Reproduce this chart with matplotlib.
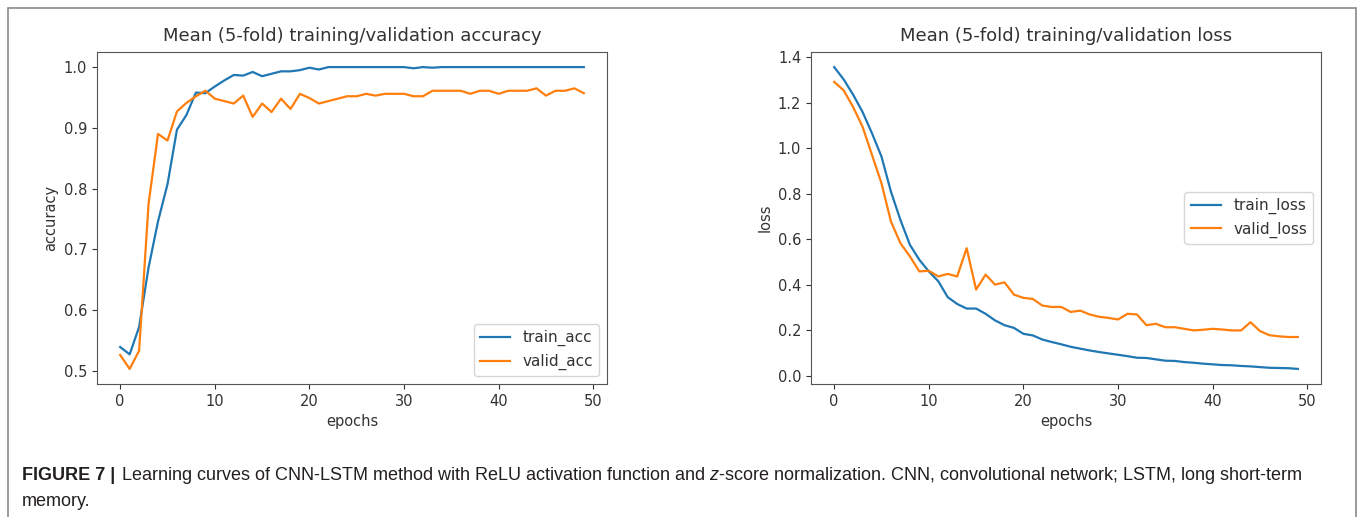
import numpy as np
import matplotlib
matplotlib.use('Agg')
import matplotlib.pyplot as plt
from matplotlib.patches import Rectangle

# --- DONNEES ---
epochs = np.arange(50)

train_acc = [0.539, 0.527, 0.572, 0.670, 0.746, 0.807, 0.897, 0.921, 0.958, 0.957,
             0.968, 0.978, 0.987, 0.986, 0.992, 0.985, 0.989, 0.993, 0.993, 0.995,
             0.999, 0.996, 1.000, 1.000, 1.000, 1.000, 1.000, 1.000, 1.000, 1.000,
             1.000, 0.998, 1.000, 0.999, 1.000, 1.000, 1.000, 1.000, 1.000, 1.000,
             1.000, 1.000, 1.000, 1.000, 1.000, 1.000, 1.000, 1.000, 1.000, 1.000]
valid_acc = [0.526, 0.503, 0.533, 0.775, 0.890, 0.879, 0.927, 0.941, 0.952, 0.961,
             0.948, 0.944, 0.940, 0.953, 0.918, 0.940, 0.926, 0.948, 0.931, 0.956,
             0.949, 0.940, 0.944, 0.948, 0.952, 0.952, 0.956, 0.953, 0.956, 0.956,
             0.956, 0.952, 0.952, 0.961, 0.961, 0.961, 0.961, 0.956, 0.961, 0.961,
             0.956, 0.961, 0.961, 0.961, 0.965, 0.953, 0.961, 0.961, 0.965, 0.957]

train_loss = [1.356, 1.302, 1.235, 1.159, 1.065, 0.963, 0.809, 0.685, 0.576, 0.510,
              0.459, 0.416, 0.346, 0.316, 0.296, 0.296, 0.273, 0.244, 0.223, 0.211,
              0.185, 0.178, 0.160, 0.149, 0.139, 0.128, 0.120, 0.112, 0.105, 0.099,
              0.093, 0.087, 0.080, 0.079, 0.073, 0.067, 0.066, 0.061, 0.058, 0.054,
              0.051, 0.048, 0.047, 0.044, 0.042, 0.039, 0.036, 0.035, 0.034, 0.031]
valid_loss = [1.291, 1.254, 1.181, 1.094, 0.970, 0.846, 0.678, 0.583, 0.525, 0.459,
              0.462, 0.437, 0.448, 0.437, 0.561, 0.379, 0.445, 0.401, 0.411, 0.357,
              0.343, 0.338, 0.309, 0.303, 0.303, 0.281, 0.287, 0.270, 0.260, 0.255,
              0.248, 0.273, 0.270, 0.223, 0.229, 0.214, 0.214, 0.207, 0.200, 0.203,
              0.207, 0.204, 0.200, 0.200, 0.236, 0.197, 0.179, 0.174, 0.171, 0.171]

acc_yticks = [0.5, 0.6, 0.7, 0.8, 0.9, 1.0]
loss_yticks = [0.0, 0.2, 0.4, 0.6, 0.8, 1.0, 1.2, 1.4]
xticks = [0, 10, 20, 30, 40, 50]

txt = '#333333'
plt.rcParams['font.family'] = 'DejaVu Sans'
plt.rcParams['text.color'] = txt
plt.rcParams['axes.labelcolor'] = txt
plt.rcParams['xtick.color'] = txt
plt.rcParams['ytick.color'] = txt
# italique "z" de la légende en Liberation Sans
plt.rcParams['mathtext.fontset'] = 'custom'
plt.rcParams['mathtext.rm'] = 'Liberation Sans'
plt.rcParams['mathtext.it'] = 'Liberation Sans:italic'

fig = plt.figure(figsize=(13.65, 5.17), dpi=100)

# --- Sous-figure gauche : accuracy ---
ax1 = fig.add_axes([97/1365, 133/517, 510/1365, 332/517])
ax1.plot(epochs, train_acc, color='#1f77b4', lw=1.6, label='train_acc')
ax1.plot(epochs, valid_acc, color='#ff7f0e', lw=1.6, label='valid_acc')
ax1.set_title('Mean (5-fold) training/validation accuracy', fontsize=13, pad=8)
ax1.set_xlabel('epochs', fontsize=10.5)
ax1.set_ylabel('accuracy', fontsize=10.5)
ax1.set_yticks(acc_yticks)
ax1.set_xticks(xticks)
ax1.legend(loc='lower right', fontsize=11)

# --- Sous-figure droite : loss ---
ax2 = fig.add_axes([811/1365, 133/517, 510/1365, 332/517])
ax2.plot(epochs, train_loss, color='#1f77b4', lw=1.6, label='train_loss')
ax2.plot(epochs, valid_loss, color='#ff7f0e', lw=1.6, label='valid_loss')
ax2.set_title('Mean (5-fold) training/validation loss', fontsize=13, pad=8)
ax2.set_xlabel('epochs', fontsize=10.5)
ax2.set_ylabel('loss', fontsize=10.5)
ax2.set_yticks(loss_yticks)
ax2.set_xticks(xticks)
ax2.legend(loc='center right', fontsize=11)

for ax in (ax1, ax2):
    ax.tick_params(labelsize=10.5)
    for s in ax.spines.values():
        s.set_color('#555555')

# Cadre de la figure et légende de l'article
fig.add_artist(Rectangle((8/1365, -0.1), 1348/1365, 1.1 - 8/517,
                         transform=fig.transFigure, fill=False,
                         edgecolor='#8a8a8a', lw=1.2))
fig.text(22/1365, 1 - 476/517, 'FIGURE 7 |', fontsize=13, fontweight='bold',
         family='Liberation Sans', color='#231f20', va='center')
fig.text(121/1365, 1 - 476/517,
         'Learning curves of CNN-LSTM method with ReLU activation function and '
         '$z$-score normalization. CNN, convolutional network; LSTM, long short-term',
         fontsize=13, family='Liberation Sans', color='#231f20', va='center')
fig.text(22/1365, 1 - 501/517, 'memory.', fontsize=13, family='Liberation Sans',
         color='#231f20', va='center')

fig.savefig('out.png', dpi=100)
